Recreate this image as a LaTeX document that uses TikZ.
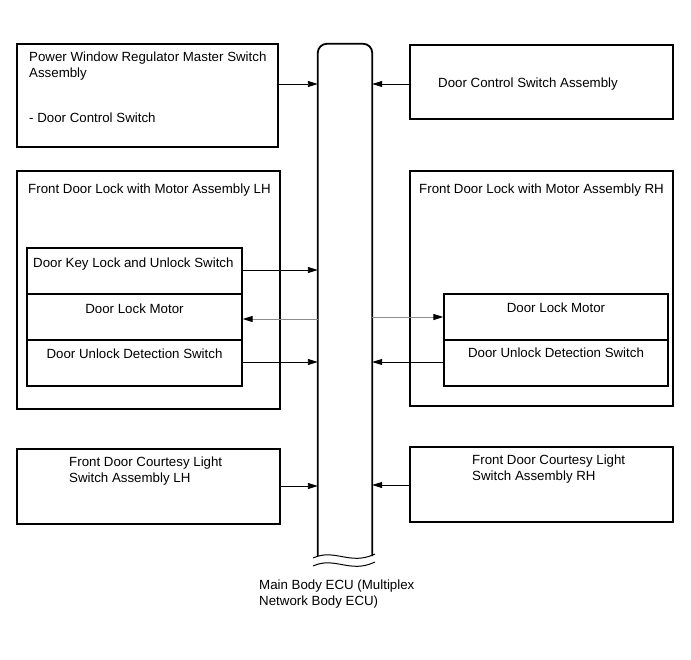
\documentclass[tikz,border=0pt]{standalone}
\usepackage{fontspec}
\setmainfont{Liberation Sans}
\usetikzlibrary{arrows.meta}
\tikzset{
  box/.style={draw, line width=1.3pt, rectangle, inner sep=0pt},
  lbl/.style={anchor=base west, inner sep=0pt, font=\fontsize{13.3}{16}\selectfont, align=left, yshift=-1.5pt},
  clbl/.style={anchor=base, inner sep=0pt, font=\fontsize{13.3}{16}\selectfont, yshift=-1.5pt},
  conn/.style={line width=0.9pt, -{Triangle[length=10pt,width=6pt]}},
  gconn/.style={line width=0.9pt, draw=black!45, -{Triangle[length=10pt,width=6pt,color=black]}},
}
\begin{document}
\begin{tikzpicture}[x=1pt,y=-1pt]
\useasboundingbox (0,0) rectangle (691,660);
% boxes
\node[box, minimum width=261pt, minimum height=103pt] (pwm) at (147.5,95.5) {};
\node[box, minimum width=263pt, minimum height=74pt] (dcs) at (541.5,82) {};
\node[box, minimum width=263pt, minimum height=238pt] (lhout) at (148.5,290) {};
\node[box, minimum width=215pt, minimum height=46pt] (lhkey) at (134.5,271) {};
\node[box, minimum width=215pt, minimum height=46pt] (lhmot) at (134.5,317) {};
\node[box, minimum width=215pt, minimum height=46pt] (lhdet) at (134.5,363) {};
\node[box, minimum width=263pt, minimum height=235pt] (rhout) at (541.5,288.5) {};
\node[box, minimum width=224pt, minimum height=46pt] (rhmot) at (556,317) {};
\node[box, minimum width=224pt, minimum height=46pt] (rhdet) at (556,363) {};
\node[box, minimum width=263pt, minimum height=75pt] (lhcl) at (148.5,486.5) {};
\node[box, minimum width=263pt, minimum height=75pt] (rhcl) at (541.5,484.5) {};
% bus
\node[minimum width=54pt, minimum height=512pt, inner sep=0pt] (bus) at (345,300) {};
\draw[line width=1.8pt, rounded corners=9pt] (bus.south west) -- (bus.north west) -- (bus.north east) -- (bus.south east);
\coordinate (w1a) at (313,558);
\coordinate (w1b) at (375,554);
\coordinate (w2a) at (313,566);
\coordinate (w2b) at (375,562);
\draw[line width=1pt] (w1a) .. controls (335,548) and (350,566) .. (w1b);
\draw[line width=1pt] (w2a) .. controls (335,556) and (350,574) .. (w2b);
% texts
\node[lbl] (t1) at (29,76) {Power Window Regulator Master Switch\\Assembly};
\node[lbl] (t2) at (29,121) {- Door Control Switch};
\node[lbl] (t3) at (438,86) {Door Control Switch Assembly};
\node[lbl] (t4) at (28,192) {Front Door Lock with Motor Assembly LH};
\node[lbl] (t5) at (33,266) {Door Key Lock and Unlock Switch};
\node[clbl] (t6) at (134.5,312) {Door Lock Motor};
\node[clbl] (t7) at (134.5,357) {Door Unlock Detection Switch};
\node[lbl] (t8) at (419,192) {Front Door Lock with Motor Assembly RH};
\node[clbl] (t9) at (556,311) {Door Lock Motor};
\node[clbl] (t10) at (556,356) {Door Unlock Detection Switch};
\node[lbl] (t11) at (69,481) {Front Door Courtesy Light\\Switch Assembly LH};
\node[lbl] (t12) at (472,479) {Front Door Courtesy Light\\Switch Assembly RH};
\node[lbl] (t13) at (259,604) {Main Body ECU (Multiplex\\Network Body ECU)};
% connectors
\draw[conn] (pwm.east |- 0,84) -- (bus.west |- 0,84);
\draw[conn] (dcs.west |- 0,84) -- (bus.east |- 0,84);
\draw[conn] (lhkey.east |- 0,270) -- (bus.west |- 0,270);
\draw[gconn] (bus.west |- 0,319) -- (lhmot.east |- 0,319);
\draw[conn] (lhdet.east |- 0,362) -- (bus.west |- 0,362);
\draw[gconn] (bus.east |- 0,317) -- (rhmot.west |- 0,317);
\draw[conn] (rhdet.west |- 0,362) -- (bus.east |- 0,362);
\draw[conn] (lhcl.east |- 0,486) -- (bus.west |- 0,486);
\draw[conn] (rhcl.west |- 0,485) -- (bus.east |- 0,485);
\end{tikzpicture}
\end{document}
